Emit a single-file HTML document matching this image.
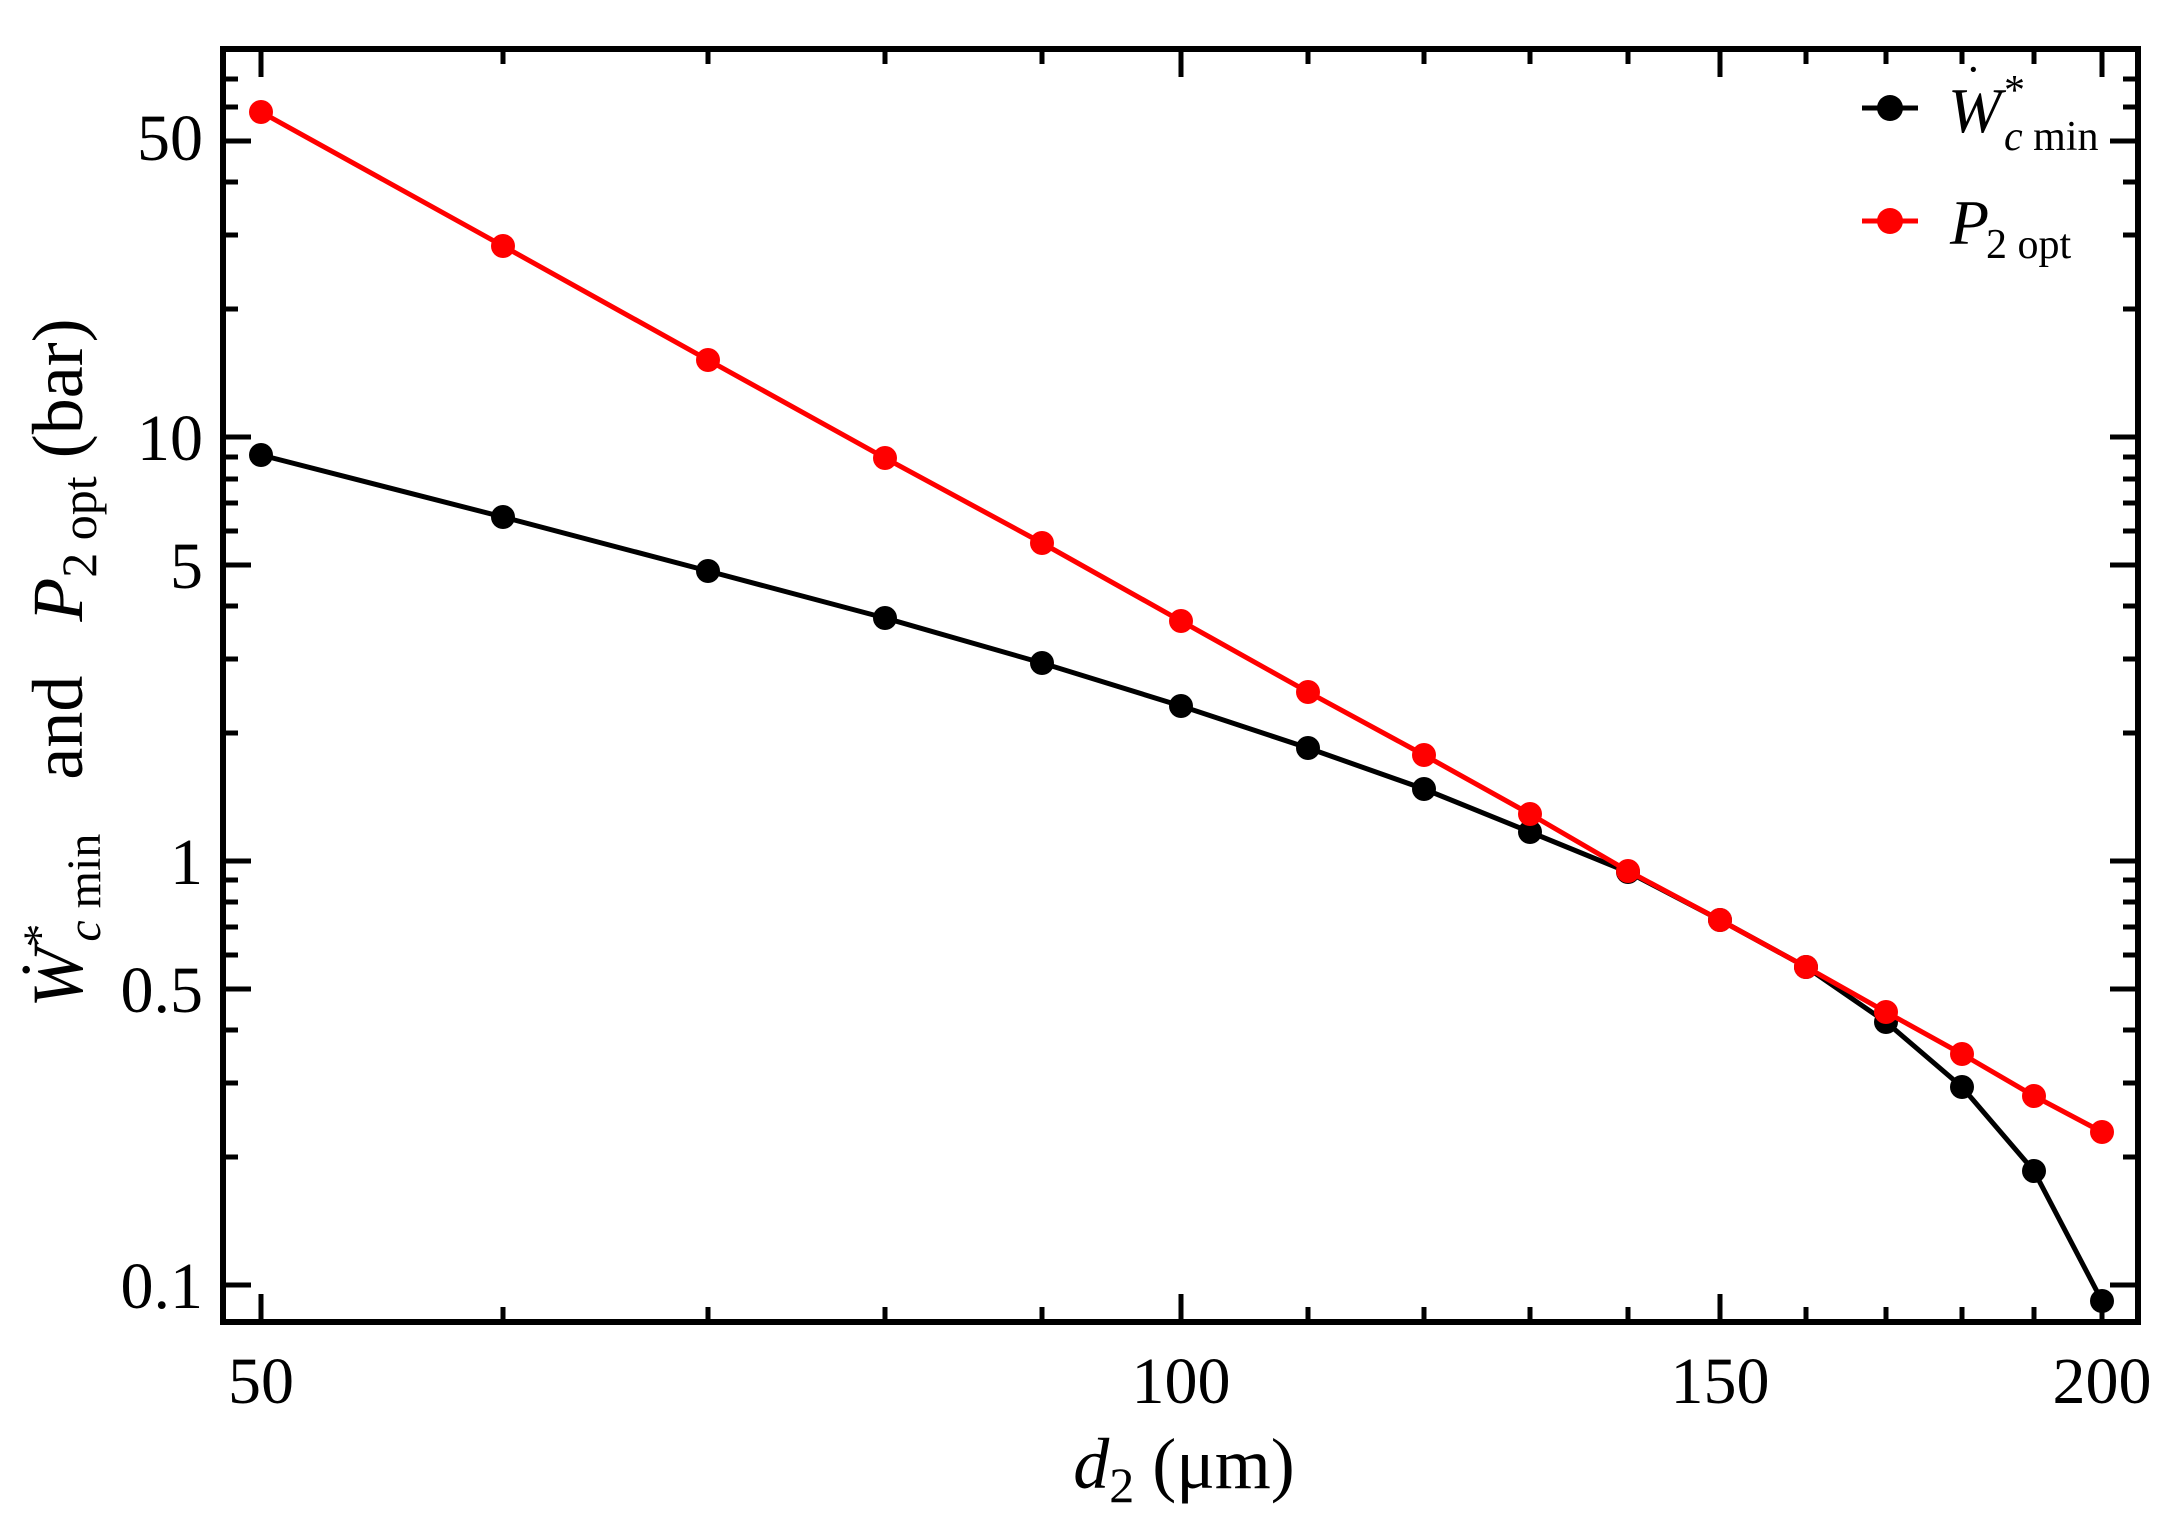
<!DOCTYPE html>
<html><head><meta charset="utf-8"><style>
html,body{margin:0;padding:0;background:#fff;}
svg{display:block;}
text{font-family:"Liberation Serif",serif;fill:#000;}
</style></head><body>
<svg width="2178" height="1535" viewBox="0 0 2178 1535" xmlns="http://www.w3.org/2000/svg">
<rect x="0" y="0" width="2178" height="1535" fill="#fff"/>
<g stroke="#000" stroke-width="5">
<path d="M261 1322v-28M1181 1322v-28M1720 1322v-28M2102 1322v-28 M261 49v28M1181 49v28M1720 49v28M2102 49v28"/>
<path d="M503 1322v-15M708 1322v-15M885 1322v-15M1042 1322v-15M1308 1322v-15M1424 1322v-15M1530 1322v-15M1628 1322v-15M1806 1322v-15M1886 1322v-15M1962 1322v-15M2034 1322v-15
M503 49v15M708 49v15M885 49v15M1042 49v15M1308 49v15M1424 49v15M1530 49v15M1628 49v15M1806 49v15M1886 49v15M1962 49v15M2034 49v15"/>
<path d="M223 1285h28M223 989h28M223 861h28M223 565h28M223 437h28M223 141h28 M2138 1285h-28M2138 989h-28M2138 861h-28M2138 565h-28M2138 437h-28M2138 141h-28"/>
<path d="M223 1157h15M223 1083h15M223 1030h15M223 955h15M223 927h15M223 902h15M223 880h15M223 733h15M223 659h15M223 606h15M223 531h15M223 503h15M223 479h15M223 457h15M223 309h15M223 235h15M223 182h15M223 107h15M223 79h15
M2138 1157h-15M2138 1083h-15M2138 1030h-15M2138 955h-15M2138 927h-15M2138 902h-15M2138 880h-15M2138 733h-15M2138 659h-15M2138 606h-15M2138 531h-15M2138 503h-15M2138 479h-15M2138 457h-15M2138 309h-15M2138 235h-15M2138 182h-15M2138 107h-15M2138 79h-15"/>
</g>
<rect x="223" y="49" width="1915" height="1273" fill="none" stroke="#000" stroke-width="6"/>
<g font-size="66" text-anchor="end">
<text x="203" y="1308">0.1</text>
<text x="203" y="1012">0.5</text>
<text x="203" y="884">1</text>
<text x="203" y="588">5</text>
<text x="203" y="460">10</text>
<text x="203" y="160">50</text>
</g>
<g font-size="66" text-anchor="middle">
<text x="261" y="1403">50</text>
<text x="1181" y="1403">100</text>
<text x="1720" y="1403">150</text>
<text x="2102" y="1403">200</text>
</g>
<polyline fill="none" stroke="#000" stroke-width="5" points="261,455 503,517 708,571 885,618 1042,663 1181,706 1308,748 1424,789 1530,832 1628,872 1720,920 1806,967 1886,1022 1962,1087 2034,1171 2102,1301"/>
<g fill="#000">
<circle cx="261" cy="455" r="12"/><circle cx="503" cy="517" r="12"/><circle cx="708" cy="571" r="12"/><circle cx="885" cy="618" r="12"/><circle cx="1042" cy="663" r="12"/><circle cx="1181" cy="706" r="12"/><circle cx="1308" cy="748" r="12"/><circle cx="1424" cy="789" r="12"/><circle cx="1530" cy="832" r="12"/><circle cx="1628" cy="872" r="12"/><circle cx="1720" cy="920" r="12"/><circle cx="1806" cy="967" r="12"/><circle cx="1886" cy="1022" r="12"/><circle cx="1962" cy="1087" r="12"/><circle cx="2034" cy="1171" r="12"/><circle cx="2102" cy="1301" r="12"/>
</g>
<polyline fill="none" stroke="#f00" stroke-width="5" points="261,112 503,246 708,360 885,458 1042,543 1181,621 1308,692 1424,755 1530,814 1628,871 1720,920 1806,967 1886,1012 1962,1054 2034,1096 2102,1132"/>
<g fill="#f00">
<circle cx="261" cy="112" r="12"/><circle cx="503" cy="246" r="12"/><circle cx="708" cy="360" r="12"/><circle cx="885" cy="458" r="12"/><circle cx="1042" cy="543" r="12"/><circle cx="1181" cy="621" r="12"/><circle cx="1308" cy="692" r="12"/><circle cx="1424" cy="755" r="12"/><circle cx="1530" cy="814" r="12"/><circle cx="1628" cy="871" r="12"/><circle cx="1720" cy="920" r="12"/><circle cx="1806" cy="967" r="12"/><circle cx="1886" cy="1012" r="12"/><circle cx="1962" cy="1054" r="12"/><circle cx="2034" cy="1096" r="12"/><circle cx="2102" cy="1132" r="12"/>
</g>
<line x1="1862" y1="108" x2="1918" y2="108" stroke="#000" stroke-width="5"/>
<circle cx="1890" cy="108" r="13" fill="#000"/>
<text x="1948" y="132" font-size="64" font-style="italic">W</text>
<text x="1966" y="84" font-size="44">·</text>
<text x="2004" y="104" font-size="42">*</text>
<text x="2004" y="150" font-size="42"><tspan font-style="italic">c</tspan> min</text>
<line x1="1862" y1="221" x2="1918" y2="221" stroke="#f00" stroke-width="5"/>
<circle cx="1890" cy="221" r="13" fill="#f00"/>
<text x="1950" y="244" font-size="64" font-style="italic">P</text>
<text x="1986" y="258" font-size="42">2 opt</text>
<text x="1184" y="1488" font-size="72" text-anchor="middle"><tspan font-style="italic">d</tspan><tspan font-size="50" dy="14">2</tspan><tspan dy="-14"> (μm)</tspan></text>
<g transform="translate(82,663) rotate(-90)">
<text x="0" y="0" font-size="72" text-anchor="middle"><tspan font-style="italic">Ẇ</tspan><tspan font-size="48" dy="-26">*</tspan><tspan font-size="48" dy="44" dx="-18"><tspan font-style="italic">c</tspan> min</tspan><tspan dy="-18" xml:space="preserve">   and   </tspan><tspan font-style="italic">P</tspan><tspan font-size="50" dy="14">2 opt</tspan><tspan dy="-14"> (bar)</tspan></text>
</g>
</svg>
</body></html>
